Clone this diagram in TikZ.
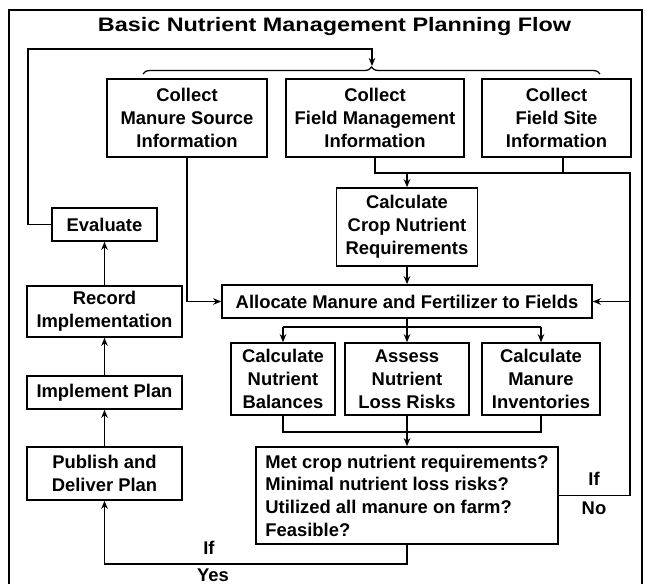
\documentclass[tikz,border=0pt]{standalone}
\usepackage{fontspec}
\setmainfont{Liberation Sans}
\usetikzlibrary{arrows.meta,decorations.pathreplacing}
\begin{document}
\begin{tikzpicture}[x=1pt,y=-1pt,
  txt/.style={font=\bfseries\fontsize{18.4}{23}\selectfont},
  box/.style={draw, line width=1.6pt, inner sep=0pt, align=center, txt},
  conn/.style={line width=1.5pt},
  arr/.style={line width=1.5pt, -{Stealth[length=8pt,width=6.5pt,inset=2.5pt]}},
  lbl/.style={txt, inner sep=0pt}]
\useasboundingbox (0,0) rectangle (646,584);
\draw[line width=2.5pt] (9,584) -- (9,10) -- (642,10) -- (642,584);

\node[anchor=base, inner sep=0pt, font=\bfseries\fontsize{19.5}{23}\selectfont] (title) at (334.5,31.7)
  {\scalebox{1.2}[1]{Basic Nutrient Management Planning Flow}};

% top row
\node[box, minimum width=160, minimum height=78] (ms) at (187,118) {Collect\\Manure Source\\Information};
\node[box, minimum width=178, minimum height=78] (fm) at (375,118) {Collect\\Field Management\\Information};
\node[box, minimum width=149, minimum height=78] (fs) at (556.5,118) {Collect\\Field Site\\Information};

\node[box, minimum width=141, minimum height=78] (cc) at (407,227) {Calculate\\Crop Nutrient\\Requirements};
\node[box, minimum width=370, minimum height=33] (al) at (407,301.5) {Allocate Manure and Fertilizer to Fields};

\node[box, minimum width=104, minimum height=72] (nb) at (283,379) {Calculate\\Nutrient\\Balances};
\node[box, minimum width=124, minimum height=72] (lr) at (407,379) {Assess\\Nutrient\\Loss Risks};
\node[box, minimum width=118, minimum height=72] (mi) at (541,379) {Calculate\\Manure\\Inventories};

\node[box, minimum width=302, minimum height=97, align=left,
      font=\bfseries\fontsize{18.4}{22.7}\selectfont] (dec) at (407,495.5)
  {Met crop nutrient requirements?\\Minimal nutrient loss risks?\\Utilized all manure on farm?\\Feasible?};

% left column
\node[box, minimum width=105, minimum height=33] (ev) at (104.5,224.5) {Evaluate};
\node[box, minimum width=155, minimum height=51] (ri) at (104.5,311.5) {Record\\Implementation};
\node[box, minimum width=155, minimum height=33] (ip) at (104.5,392.5) {Implement Plan};
\node[box, minimum width=155, minimum height=53] (pd) at (104.5,473.5) {Publish and\\Deliver Plan};

% labels
\node[lbl] (if1) at (209,548) {If};
\node[lbl] (yes) at (213,575) {Yes};
\node[lbl] (if2) at (594,479) {If};
\node[lbl] (no) at (594,508) {No};

% coordinates
\coordinate (bt) at (372,66);
\coordinate (fb1) at (28,224.5);
\coordinate (fb2) at (28,49);
\coordinate (fb3) at (372,49);
\coordinate (j1) at (375,173);
\coordinate (j2) at (407,173);
\coordinate (j3) at (630,173);
\coordinate (j4) at (563,173);
\coordinate (j5) at (630,301.5);
\coordinate (k0) at (407,327);
\coordinate (k1) at (283,327);
\coordinate (k2) at (541,327);
\coordinate (m1) at (283,432);
\coordinate (m2) at (541,432);
\coordinate (y1) at (407,564);
\coordinate (y2) at (104.5,564);

% brace and feedback
\draw[line width=1.3pt, decorate, decoration={brace, amplitude=7pt}] (143,74) -- (600,74);
\draw[arr] (ev.west) -- (fb1) -- (fb2) -- (fb3) -- (bt);

% connectors
\draw[arr] (ms.south) |- (al.west);
\draw[conn] (fm.south) -- (j1) -- (j3) |- (dec.east);
\draw[conn] ([xshift=6.5pt]fs.south) -- (j4);
\draw[arr] (j2) -- (cc.north);
\draw[arr] (j5) -- (al.east);
\draw[arr] (cc.south) -- (al.north);
\draw[conn] (al.south) -- (k0);
\draw[conn] (k1) -- (k2);
\draw[arr] (k1) -- (nb.north);
\draw[arr] (k0) -- (lr.north);
\draw[arr] (k2) -- (mi.north);
\draw[conn] (nb.south) -- (m1) -- (m2) -- (mi.south);
\draw[arr] (lr.south) -- (dec.north);
\draw[arr] (dec.south) -- (y1) -- (y2) -- (pd.south);
\draw[arr] (pd.north) -- (ip.south);
\draw[arr] (ip.north) -- (ri.south);
\draw[arr] (ri.north) -- (ev.south);
\end{tikzpicture}
\end{document}
